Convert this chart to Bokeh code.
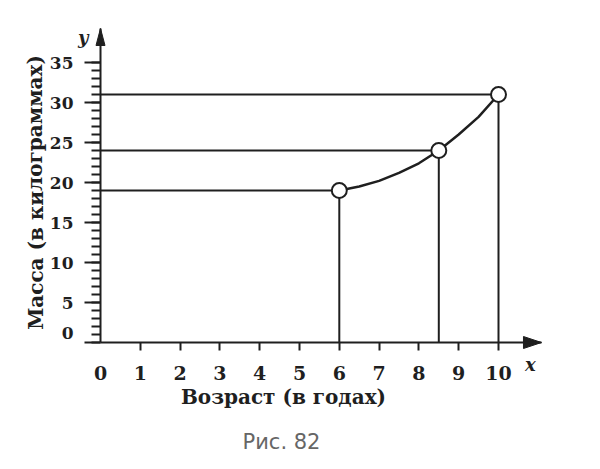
from bokeh.plotting import figure
from bokeh.models import Range1d, FixedTicker, Label
from bokeh.embed import file_html
from bokeh.resources import INLINE

# ---- data ----
ages = [6, 8.5, 10]            # years
masses = [19, 24, 31]          # kg
curve_age = [6, 6.5, 7, 7.5, 8, 8.5, 9, 9.5, 10]
curve_mass = [19, 19.5, 20.2, 21.2, 22.4, 24, 26, 28.2, 31]
x_ticks = list(range(0, 11))
y_ticks = list(range(0, 36, 5))
y_minor = list(range(0, 36))
x_title = "Возраст (в годах)"
y_title = "Масса (в килограммах)"
caption = "Рис. 82"

INK = "#1f1f1f"
SERIF = "DejaVu Serif"

W, H = 592, 461
# pixel geometry of the drawing: origin and scale
OX, OY = 100, 342          # pixel position of (0, 0)
SX, SY = 39.8, 8.0         # pixels per unit
X_END, Y_END = 11.08, 39.25  # axis arrow tips (data units)

p = figure(width=W, height=H, output_backend="svg", toolbar_location=None,
           x_range=Range1d(-OX / SX, (W - OX) / SX),
           y_range=Range1d(-(H - OY) / SY, OY / SY),
           min_border=0)
p.outline_line_color = None
p.grid.visible = False
p.background_fill_color = "white"
p.border_fill_color = "white"

# x axis
xa = p.xaxis[0]
xa.fixed_location = 0
xa.bounds = (0, X_END)
xa.ticker = FixedTicker(ticks=x_ticks, minor_ticks=x_ticks[1:])
xa.major_tick_out = 0
xa.major_tick_in = 0
xa.minor_tick_out = 8
xa.minor_tick_in = 0
xa.minor_tick_line_width = 2
xa.minor_tick_line_color = INK
xa.axis_line_width = 2
xa.axis_line_color = INK
xa.major_label_standoff = 15
xa.major_label_text_font = SERIF
xa.major_label_text_font_style = "bold"
xa.major_label_text_font_size = "19px"
xa.major_label_text_color = INK

# y axis
ya = p.yaxis[0]
ya.fixed_location = 0
ya.bounds = (0, Y_END)
ya.ticker = FixedTicker(ticks=y_ticks, minor_ticks=y_minor)
ya.major_tick_out = 16
ya.major_tick_in = 0
ya.minor_tick_out = 9
ya.minor_tick_in = 0
ya.major_tick_line_width = 2
ya.minor_tick_line_width = 2
ya.major_tick_line_color = INK
ya.minor_tick_line_color = INK
ya.axis_line_width = 2
ya.axis_line_color = INK
ya.major_label_standoff = 11
ya.major_label_text_font = SERIF
ya.major_label_text_font_style = "bold"
ya.major_label_text_font_size = "17px"
ya.major_label_text_color = INK
ya.major_label_overrides = {0: ""}

# raised "0" on the y axis
p.add_layout(Label(x=0, y=0, text="0", x_offset=-27, y_offset=10,
                   text_font=SERIF, text_font_style="bold", text_font_size="17px",
                   text_color=INK, text_align="right", text_baseline="middle"))

# arrow heads (narrow filled triangles at the axis tips)
hx_len, hx_half = 18 / SX, 6 / SY
hy_len, hy_half = 17 / SY, 4.5 / SX
p.patch([X_END, X_END - hx_len, X_END - hx_len], [0, hx_half, -hx_half],
        fill_color=INK, line_color=INK, line_width=1)
p.patch([0, hy_half, -hy_half], [Y_END, Y_END - hy_len, Y_END - hy_len],
        fill_color=INK, line_color=INK, line_width=1)

# guide lines
p.segment(x0=[0] * len(ages), y0=masses, x1=ages, y1=masses, line_color=INK, line_width=2)
p.segment(x0=ages, y0=[0] * len(ages), x1=ages, y1=masses, line_color=INK, line_width=2)

# curve and points
p.line(curve_age, curve_mass, line_color=INK, line_width=2.5)
p.scatter(ages, masses, size=15, fill_color="white", line_color=INK, line_width=2)

# axis letters
p.add_layout(Label(x=0, y=Y_END, text="y", x_offset=-12, y_offset=-9,
                   text_font=SERIF, text_font_style="bold italic", text_font_size="18px",
                   text_color=INK, text_align="right", text_baseline="middle"))
p.add_layout(Label(x=X_END, y=0, text="x", x_offset=-11, y_offset=-22,
                   text_font=SERIF, text_font_style="bold italic", text_font_size="18px",
                   text_color=INK, text_align="center", text_baseline="middle"))

# axis titles
p.add_layout(Label(x=(283 - OX) / SX, y=(OY - 396) / SY, text=x_title, text_font=SERIF,
                   text_font_style="bold", text_font_size="20px", text_color=INK,
                   text_align="center", text_baseline="middle"))
p.add_layout(Label(x=(35 - OX) / SX, y=(OY - 192) / SY, text=y_title, angle=1.5708,
                   text_font=SERIF, text_font_style="bold", text_font_size="20px",
                   text_color=INK, text_align="center", text_baseline="middle"))

# caption
p.add_layout(Label(x=(281 - OX) / SX, y=(OY - 441) / SY, text=caption,
                   text_font="DejaVu Sans", text_font_size="21px",
                   text_color="#666666", text_align="center", text_baseline="middle"))

open("out.html", "w").write(file_html(p, INLINE))
